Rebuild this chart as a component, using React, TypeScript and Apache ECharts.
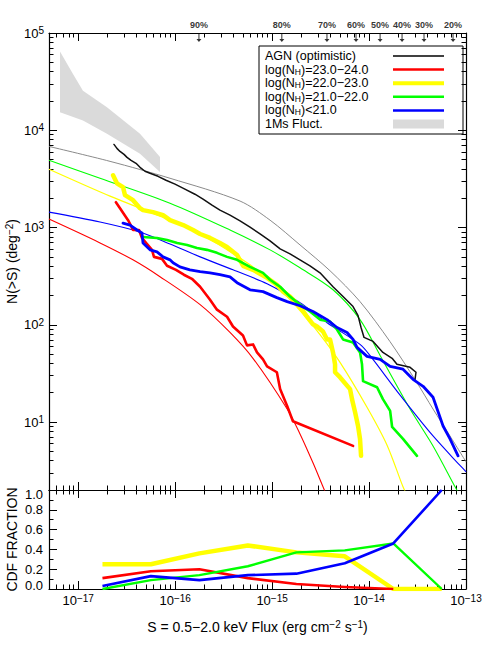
import React, { useEffect, useRef } from 'react';
import * as echarts from 'echarts';

const FONT = '"Liberation Sans", Arial, Helvetica, sans-serif';

// ---------- axis ranges ----------
const xMin = 5e-18;
const xMax = 1e-13;
const yMin = 2;
const yMax = 1e5;

// ---------- tick labels ----------
const xMajorTicks = [1e-17, 1e-16, 1e-15, 1e-14];
const xTickLabels = [1e-17, 1e-16, 1e-15, 1e-14, 1e-13];
const yMajorTicks = [10, 100, 1000, 1e4];
const yTickLabels = [10, 100, 1000, 1e4, 1e5];

// ---------- completeness markers on the top axis ----------
const pctLabels = ['90%', '80%', '70%', '60%', '50%', '40%', '30%', '20%'];
const pctFlux = [1.76e-16, 1.26e-15, 3.68e-15, 7.34e-15, 1.3e-14, 2.19e-14, 3.69e-14, 7.35e-14];

// ---------- model curves (thin) [S, N(>S)] ----------
const agnModel: [number, number][] = [
  [5.0e-18, 6820], [2.13e-17, 4790], [8.85e-17, 3210], [4.67e-16, 1870], [9.53e-16, 1190],
  [1.94e-15, 662], [3.96e-15, 359], [8.07e-15, 173], [1.64e-14, 67.4], [3.05e-14, 26.3],
  [4.57e-14, 13.6], [6.84e-14, 7.19], [1.0e-13, 3.9],
];
const nh23Model: [number, number][] = [
  [5.0e-18, 1220], [1.68e-17, 694], [3.67e-17, 465], [6.98e-17, 312], [1.81e-16, 161],
  [3.68e-16, 83.4], [6.35e-16, 45.2], [1.43e-15, 13.6], [1.94e-15, 7.54], [2.64e-15, 3.81],
  [3.35e-15, 2.16], [3.69e-15, 1.71],
];
const nh22Model: [number, number][] = [
  [5.0e-18, 3970], [2.13e-17, 2100], [6.98e-17, 1310], [1.81e-16, 858], [5.92e-16, 413],
  [1.3e-15, 214], [1.94e-15, 140], [3.12e-15, 79.4], [5.02e-15, 41.1], [9.53e-15, 14.2],
  [1.53e-14, 5.82], [2.24e-14, 2.16], [2.52e-14, 1.7],
];
const nh21Model: [number, number][] = [
  [5.0e-18, 4910], [1.68e-17, 3210], [8.85e-17, 1780], [3.68e-16, 943], [9.53e-16, 589],
  [1.94e-15, 385], [4.25e-15, 229], [8.07e-15, 113], [1.3e-14, 48.4], [2.65e-14, 13.6],
  [4.57e-14, 5.68], [7.71e-14, 2.16], [8.69e-14, 1.75],
];
const nh20Model: [number, number][] = [
  [5.0e-18, 1440], [1.68e-17, 1140], [4.34e-17, 899], [8.85e-17, 678], [1.81e-16, 499],
  [3.95e-16, 367], [8.87e-16, 264], [1.94e-15, 169], [3.69e-15, 105], [8.07e-15, 62.8],
  [1.02e-14, 48.4], [2.09e-14, 18.9], [4.57e-14, 7.19], [1.0e-13, 3.08],
];

// ---------- observed counts (jagged) [S, N(>S)] ----------
const agnObs: [number, number][] = [
  [2.34e-17, 7150], [2.51e-17, 6510], [2.7e-17, 6060], [2.97e-17, 5650], [3.19e-17, 5260],
  [3.51e-17, 4900], [3.95e-17, 4570], [4.34e-17, 4160], [4.89e-17, 3790], [5.51e-17, 3610],
  [6.66e-17, 3360], [8.05e-17, 3060], [9.97e-17, 2790], [1.26e-16, 2480], [1.6e-16, 2200],
  [1.94e-16, 1960], [2.4e-16, 1700], [2.9e-16, 1510], [3.68e-16, 1340], [4.67e-16, 1170],
  [5.92e-16, 1010], [7.51e-16, 858], [9.52e-16, 728], [1.21e-15, 603], [1.53e-15, 536],
  [1.94e-15, 465], [2.46e-15, 404], [3.12e-15, 342], [4.25e-15, 246], [5.39e-15, 195],
  [6.84e-15, 154], [7.7e-15, 124], [8.27e-15, 93.7], [8.88e-15, 74.1], [1.1e-14, 67.4],
  [1.39e-14, 52.0], [1.73e-14, 45.2], [1.94e-14, 39.2], [2.65e-14, 36.5], [3.05e-14, 32.5],
  [2.98e-14, 27.5],
];
const nh23Obs: [number, number][] = [
  [2.45e-17, 1820], [2.7e-17, 1580], [2.97e-17, 1370], [3.27e-17, 1190], [3.51e-17, 1040],
  [3.68e-17, 943], [4.24e-17, 943], [4.55e-17, 781], [5.01e-17, 694], [5.77e-17, 589],
  [6.05e-17, 499], [7.32e-17, 476], [8.25e-17, 404], [1.02e-16, 367], [1.23e-16, 327],
  [1.49e-16, 297], [1.81e-16, 246], [2.29e-16, 181], [2.7e-16, 143], [3.43e-16, 121],
  [3.95e-16, 96.0], [5.01e-16, 77.6], [5.51e-16, 61.4], [6.36e-16, 62.8], [6.99e-16, 52.0],
  [8.06e-16, 44.1], [8.87e-16, 37.4], [1.12e-15, 32.5], [1.21e-15, 21.8], [1.43e-15, 14.6],
  [1.64e-15, 10.2], [6.84e-15, 5.68],
];
const nh22Obs: [number, number][] = [
  [2.29e-17, 3440], [2.51e-17, 2850], [2.9e-17, 2600], [3.04e-17, 2150], [3.68e-17, 1910],
  [4.34e-17, 1580], [4.66e-17, 1510], [5.91e-17, 1440], [7.5e-17, 1340], [8.85e-17, 1190],
  [1.21e-16, 1060], [1.53e-16, 943], [1.81e-16, 858], [2.29e-16, 781], [2.9e-16, 694],
  [3.43e-16, 632], [4.35e-16, 523], [5.01e-16, 404], [6.36e-16, 367], [8.87e-16, 304],
  [1.12e-15, 258], [1.3e-15, 219], [1.53e-15, 195], [1.94e-15, 154], [2.29e-15, 121],
  [2.64e-15, 101], [2.91e-15, 96.0], [3.35e-15, 85.3], [3.69e-15, 70.7], [3.96e-15, 70.7],
  [4.25e-15, 52.0], [4.46e-15, 39.2], [4.46e-15, 32.5], [5.01e-15, 28.9], [6.37e-15, 21.8],
  [6.67e-15, 17.2], [7.17e-15, 12.7], [7.7e-15, 9.1], [8.07e-15, 6.7], [8.27e-15, 4.49],
];
const nh21Obs: [number, number][] = [
  [4.66e-17, 799], [6.5e-17, 781], [8.25e-17, 745], [1.05e-16, 694], [1.33e-16, 662],
  [1.68e-16, 617], [2.13e-16, 589], [2.7e-16, 549], [3.43e-16, 499], [4.35e-16, 465],
  [5.92e-16, 394], [8.06e-16, 342], [9.52e-16, 290], [1.21e-15, 246], [1.53e-15, 195],
  [1.94e-15, 161], [2.46e-15, 137], [3.12e-15, 113], [3.96e-15, 108], [4.67e-15, 89.4],
  [5.39e-15, 70.7], [6.84e-15, 65.8], [8.07e-15, 52.0], [8.46e-15, 39.2], [8.67e-15, 26.3],
  [1.21e-14, 22.8], [1.39e-14, 17.2], [1.65e-14, 13.0], [1.73e-14, 8.89], [2.24e-14, 6.7],
  [3.12e-14, 4.49],
];
const nh20Obs: [number, number][] = [
  [2.9e-17, 1110], [3.42e-17, 1060], [4.04e-17, 943], [4.55e-17, 879], [4.66e-17, 694],
  [5.51e-17, 589], [6.5e-17, 562], [7.5e-17, 499], [8.85e-17, 465], [9.51e-17, 434],
  [1.12e-16, 394], [1.42e-16, 367], [1.81e-16, 351], [2.29e-16, 342], [2.9e-16, 327],
  [3.68e-16, 311], [4.35e-16, 271], [5.92e-16, 229], [8.06e-16, 219], [1.12e-15, 190],
  [1.43e-15, 173], [1.94e-15, 157], [2.64e-15, 137], [3.69e-15, 113], [4.67e-15, 93.7],
  [5.93e-15, 83.3], [6.84e-15, 70.7], [7.52e-15, 58.5], [9.53e-15, 47.3], [1.3e-14, 44.1],
  [1.65e-14, 37.4], [2.24e-14, 34.9], [2.84e-14, 27.5], [3.61e-14, 23.3], [4.57e-14, 18.0],
  [5.8e-14, 9.1], [6.84e-14, 6.7], [8.28e-14, 4.49],
];

// ---------- 1Ms fluctuation band ----------
const bandUpper: [number, number][] = [
  [6.49e-18, 64400], [8.84e-18, 37800], [1.12e-17, 25500], [1.98e-17, 17200], [4.34e-17, 9200], [6.98e-17, 5300],
];
const bandLower: [number, number][] = [
  [6.49e-18, 15300], [1.12e-17, 12600], [1.98e-17, 9200], [4.34e-17, 5740], [6.98e-17, 3720],
];

// ---------- CDF fraction panel ----------
const cdfFlux = [1.78e-17, 5.62e-17, 1.78e-16, 5.62e-16, 1.78e-15, 5.62e-15, 1.78e-14, 5.62e-14];
const cdfNH23 = [0.11, 0.18, 0.2, 0.11, 0.05, 0.02, 0.0];
const cdfNH22 = [0.25, 0.25, 0.36, 0.44, 0.37, 0.33, 0.0, 0.0];
const cdfNH21 = [0.0, 0.09, 0.14, 0.23, 0.37, 0.39, 0.46, 0.0];
const cdfNH20 = [0.03, 0.13, 0.09, 0.14, 0.155, 0.26, 0.46, 1.0];

const RED = '#ff0000';
const YELLOW = '#ffff00';
const GREEN = '#00ff00';
const BLUE = '#0000ff';
const BLACK = '#111111';
const GREYLINE = '#8a8a8a';
const BAND = '#dadada';

function minorLogTicks(lo: number, hi: number, min: number, max: number) {
  const out: number[] = [];
  for (let e = lo; e <= hi; e++) {
    for (let m = 2; m <= 9; m++) {
      const v = m * Math.pow(10, e);
      if (v > min && v < max) out.push(v);
    }
  }
  return out;
}
const xMinorTicks = minorLogTicks(-18, -14, xMin, xMax);
const yMinorTicks = minorLogTicks(0, 4, yMin, yMax);

const supLabel = (v: number) => {
  const e = Math.round(Math.log10(v));
  return '10{sup|' + (e < 0 ? '\u2212' + -e : String(e)) + '}';
};

const lineAx = { show: true, lineStyle: { color: '#000', width: 1.2 } };
const tickStyle = { color: '#000', width: 1 };
const supRich = {
  sup: { fontSize: 10, fontFamily: FONT, color: '#000', verticalAlign: 'top', lineHeight: 10 },
};

function logX(grid: number, position: string, ticks: number[], len: number, showLine: boolean, labels?: boolean): any {
  return {
    type: 'log', logBase: 10, gridIndex: grid, position, min: xMin, max: xMax,
    axisLine: showLine ? lineAx : { show: false },
    axisTick: { show: true, inside: true, length: len, customValues: ticks, lineStyle: tickStyle },
    axisLabel: labels
      ? {
          show: true, customValues: xTickLabels, formatter: supLabel, fontSize: 13, fontFamily: FONT,
          color: '#000', margin: 4, lineHeight: 15, rich: supRich,
        }
      : { show: false },
    splitLine: { show: false },
    axisPointer: { show: false },
  };
}
function logY(position: string, ticks: number[], len: number, showLine: boolean, labels?: boolean): any {
  return {
    type: 'log', logBase: 10, gridIndex: 0, position, min: yMin, max: yMax,
    axisLine: showLine ? lineAx : { show: false },
    axisTick: { show: true, inside: true, length: len, customValues: ticks, lineStyle: tickStyle },
    axisLabel: labels
      ? {
          show: true, customValues: yTickLabels, formatter: supLabel, fontSize: 13, fontFamily: FONT,
          color: '#000', margin: 5, lineHeight: 15, rich: supRich,
        }
      : { show: false },
    splitLine: { show: false },
  };
}

const thin = (data: [number, number][], color: string, width = 1): any => ({
  type: 'line', xAxisIndex: 0, yAxisIndex: 0, data, symbol: 'none', showSymbol: false,
  smooth: 0.3, lineStyle: { color, width }, silent: true, z: 2,
});
const jag = (data: [number, number][], color: string, width: number): any => ({
  type: 'line', xAxisIndex: 0, yAxisIndex: 0, data, symbol: 'none', showSymbol: false,
  smooth: false, lineStyle: { color, width, join: 'round', cap: 'round' }, silent: true, z: 3,
});
const cdf = (vals: number[], color: string, width: number): any => ({
  type: 'line', xAxisIndex: 4, yAxisIndex: 4,
  data: vals.map((v, i) => [cdfFlux[i], v]),
  symbol: 'none', showSymbol: false, lineStyle: { color, width, join: 'round' }, silent: true, z: 3,
});

const legendRows = [
  { text: 'AGN (optimistic)', color: '#000', width: 1.5 },
  { text: 'log(N{sub|H})=23.0\u221224.0', color: RED, width: 2.5 },
  { text: 'log(N{sub|H})=22.0\u221223.0', color: YELLOW, width: 4 },
  { text: 'log(N{sub|H})=21.0\u221222.0', color: GREEN, width: 2.5 },
  { text: 'log(N{sub|H})<21.0', color: BLUE, width: 2.5 },
  { text: '1Ms Fluct.', color: BAND, width: 0 },
];

const nameRich = {
  a: { fontSize: 14, fontFamily: FONT, color: '#000', lineHeight: 16 },
  sup: { fontSize: 10, fontFamily: FONT, color: '#000', verticalAlign: 'top', lineHeight: 10 },
};

function buildOption(): any {
  const legendEls: any[] = [
    {
      type: 'rect', shape: { x: 259, y: 46, width: 204, height: 88 },
      style: { fill: '#fff', stroke: '#000', lineWidth: 1 },
    },
  ];
  legendRows.forEach((r, i) => {
    const y = 56 + i * 13.6;
    legendEls.push({
      type: 'text', x: 265, y,
      style: {
        text: r.text, fontSize: 12.5, fontFamily: FONT, fill: '#000', verticalAlign: 'middle',
        rich: {
          sub: { fontSize: 8.5, fontFamily: FONT, fill: '#000', verticalAlign: 'bottom', lineHeight: 8 },
        },
      },
    });
    if (r.width > 0) {
      legendEls.push({
        type: 'line', shape: { x1: 393, y1: y, x2: 444, y2: y },
        style: { stroke: r.color, lineWidth: r.width },
      });
    } else {
      legendEls.push({
        type: 'rect', shape: { x: 393, y: y - 4.5, width: 51, height: 9 },
        style: { fill: r.color },
      });
    }
  });

  return {
    animation: false,
    backgroundColor: '#fff',
    textStyle: { fontFamily: FONT, color: '#000' },
    grid: [
      { left: 49, width: 417, top: 33, height: 457, outerBoundsMode: 'none', containLabel: false },
      { left: 49, width: 417, top: 490, height: 99, outerBoundsMode: 'none', containLabel: false },
    ],
    xAxis: [
      logX(0, 'bottom', xMajorTicks, 8, true),
      logX(0, 'bottom', xMinorTicks, 4.5, false),
      logX(0, 'top', xMajorTicks, 8, true),
      logX(0, 'top', xMinorTicks, 4.5, false),
      {
        ...logX(1, 'bottom', xMajorTicks, 8, true, true),
        name: '{a|S = 0.5\u22122.0 keV Flux (erg cm}{sup|\u22122}{a| s}{sup|\u22121}{a|)}',
        nameLocation: 'middle', nameGap: 30, nameMoveOverlap: false,
        nameTextStyle: { fontSize: 14, fontFamily: FONT, color: '#000', rich: nameRich },
      },
      logX(1, 'bottom', xMinorTicks, 4.5, false),
      logX(1, 'top', xMajorTicks, 8, true),
      logX(1, 'top', xMinorTicks, 4.5, false),
    ],
    yAxis: [
      {
        ...logY('left', yMajorTicks, 8, true, true),
        name: '{a|N(>S) (deg}{sup|\u22122}{a|)}',
        nameLocation: 'middle', nameGap: 29, nameMoveOverlap: false,
        nameTextStyle: { fontSize: 14, fontFamily: FONT, color: '#000', rich: nameRich },
      },
      logY('left', yMinorTicks, 4.5, false),
      logY('right', yMajorTicks, 8, true),
      logY('right', yMinorTicks, 4.5, false),
      {
        type: 'value', gridIndex: 1, position: 'left', min: 0, max: 1, interval: 0.2,
        axisLine: lineAx,
        axisTick: { show: true, inside: true, length: 8, lineStyle: tickStyle },
        minorTick: { show: true, splitNumber: 2, length: 4.5, lineStyle: tickStyle },
        axisLabel: {
          show: true, fontSize: 13, fontFamily: FONT, color: '#000', margin: 6,
          formatter: (v: number) => (v >= 0.999 ? '{hi|1.0}' : v <= 0.001 ? '{lo|0.0}' : v.toFixed(1)),
          rich: {
            hi: { fontSize: 13, fontFamily: FONT, color: '#000', padding: [8, 0, 0, 0] },
            lo: { fontSize: 13, fontFamily: FONT, color: '#000', padding: [0, 0, 7, 0] },
          },
        },
        splitLine: { show: false },
        name: 'CDF FRACTION', nameLocation: 'middle', nameGap: 29, nameMoveOverlap: false,
        nameTextStyle: { fontSize: 14, fontFamily: FONT, color: '#000', lineHeight: 16 },
      },
      {
        type: 'value', gridIndex: 1, position: 'right', min: 0, max: 1, interval: 0.2,
        axisLine: lineAx,
        axisTick: { show: true, inside: true, length: 8, lineStyle: tickStyle },
        minorTick: { show: true, splitNumber: 2, length: 4.5, lineStyle: tickStyle },
        axisLabel: { show: false },
        splitLine: { show: false },
      },
    ],
    series: [
      {
        type: 'custom', xAxisIndex: 0, yAxisIndex: 0, coordinateSystem: 'cartesian2d',
        data: [bandUpper[0]], silent: true, z: 1,
        renderItem: (_p: any, api: any) => {
          const pts = bandUpper.map((p) => api.coord(p)).concat(
            bandLower.slice().reverse().map((p) => api.coord(p)),
          );
          return { type: 'polygon', shape: { points: pts }, style: { fill: BAND } };
        },
      },
      thin(agnModel, GREYLINE, 1),
      thin(nh23Model, RED, 1.1),
      thin(nh22Model, YELLOW, 1.2),
      thin(nh21Model, GREEN, 1.1),
      thin(nh20Model, BLUE, 1.1),
      jag(agnObs, BLACK, 1.5),
      jag(nh22Obs, YELLOW, 4.5),
      jag(nh23Obs, RED, 2.6),
      jag(nh21Obs, GREEN, 2.6),
      jag(nh20Obs, BLUE, 2.8),
      cdf(cdfNH22, YELLOW, 4.5),
      cdf(cdfNH23, RED, 2.6),
      cdf(cdfNH21, GREEN, 2.4),
      cdf(cdfNH20, BLUE, 2.6),
      {
        type: 'scatter', xAxisIndex: 2, yAxisIndex: 0, clip: false, silent: true, z: 5,
        data: pctFlux.map((s) => [s, yMax]),
        symbol: 'path://M2,0L3,0L3,6L5,6L2.5,9L0,6L2,6Z',
        symbolSize: [5, 9], symbolOffset: [0, 4.5],
        itemStyle: { color: '#000' },
        label: {
          show: true, position: 'top', distance: 4, fontSize: 9, fontWeight: 'bold', fontFamily: FONT,
          color: '#000', formatter: (p: any) => pctLabels[p.dataIndex],
        },
      },
    ],
    graphic: [{ type: 'group', z: 100, children: legendEls }],
  };
}

export default function App() {
  const ref = useRef<HTMLDivElement>(null);
  useEffect(() => {
    if (!ref.current) return;
    const chart = echarts.init(ref.current, undefined, { renderer: 'svg', width: 491, height: 654 });
    chart.setOption(buildOption());
    return () => chart.dispose();
  }, []);
  return (
    <div
      ref={ref}
      style={{ position: 'fixed', left: 0, top: 0, width: 491, height: 654, background: '#fff' }}
    />
  );
}
